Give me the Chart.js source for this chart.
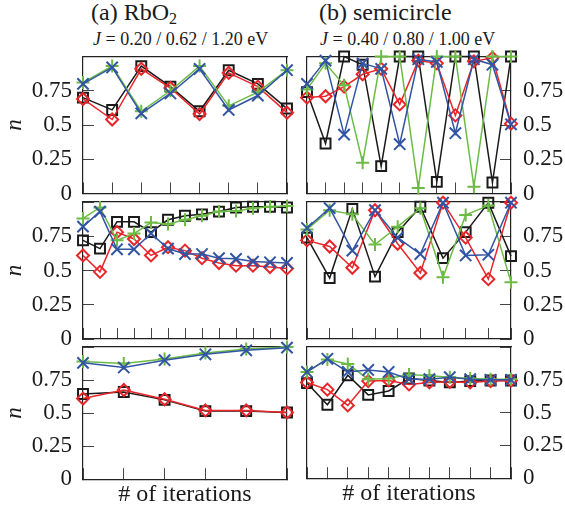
<!doctype html>
<html>
<head>
<title>Occupation vs. iterations</title>
<script src="https://cdn.jsdelivr.net/npm/chart.js@4.4.0/dist/chart.umd.min.js"></script>
<style>
body { margin: 0; background: #fff; }
#page { position: relative; width: 565px; height: 515px; overflow: hidden;
        font-family: 'Liberation Serif', 'Times New Roman', serif; color: #1a1a1a; }
#page canvas { position: absolute; left: 0; top: 0; }
.head { position: absolute; white-space: nowrap; }
.big { font-size: 24px; line-height: 24px; top: 0; }
.small { font-size: 18px; line-height: 18px; top: 30px; }
.sub { font-size: 16px; position: relative; top: 4px; }
</style>
</head>
<body>
<div id="page">
  <div class="head big" style="left:91px">(a) RbO<span class="sub">2</span></div>
  <div class="head small" style="left:93px"><i>J</i> = 0.20 / 0.62 / 1.20 eV</div>
  <div class="head big" style="left:319px">(b) semicircle</div>
  <div class="head small" style="left:320px"><i>J</i> = 0.40 / 0.80 / 1.00 eV</div>
  <canvas id="a1" width="565" height="515"></canvas>
  <canvas id="a2" width="565" height="515"></canvas>
  <canvas id="a3" width="565" height="515"></canvas>
  <canvas id="b1" width="565" height="515"></canvas>
  <canvas id="b2" width="565" height="515"></canvas>
  <canvas id="b3" width="565" height="515"></canvas>
</div>

<script>
// iteration indices for each panel
var itersA1 = [1, 2, 3, 4, 5, 6, 7, 8];
var itersA2 = [1, 2, 3, 4, 5, 6, 7, 8, 9, 10, 11, 12, 13];
var itersA3 = [1, 2, 3, 4, 5, 6];
var itersB1 = [1, 2, 3, 4, 5, 6, 7, 8, 9, 10, 11, 12];
var itersB2 = [1, 2, 3, 4, 5, 6, 7, 8, 9, 10];
var itersB3 = [1, 2, 3, 4, 5, 6, 7, 8, 9, 10, 11];

// (a) RbO2
var a1Black = [0.70, 0.61, 0.93, 0.78, 0.60, 0.90, 0.80, 0.62];
var a1Red   = [0.69, 0.54, 0.91, 0.77, 0.58, 0.88, 0.78, 0.59];
var a1Green = [0.81, 0.93, 0.60, 0.75, 0.93, 0.64, 0.74, 0.90];
var a1Blue  = [0.80, 0.92, 0.585, 0.73, 0.91, 0.61, 0.715, 0.90];

var a2Black = [0.72, 0.66, 0.855, 0.855, 0.78, 0.87, 0.90, 0.91, 0.93, 0.96, 0.965, 0.965, 0.96];
var a2Red   = [0.61, 0.49, 0.78, 0.73, 0.61, 0.67, 0.645, 0.59, 0.555, 0.535, 0.535, 0.525, 0.515];
var a2Green = [0.88, 0.96, 0.72, 0.77, 0.85, 0.84, 0.87, 0.90, 0.93, 0.935, 0.955, 0.965, 0.97];
var a2Blue  = [0.82, 0.93, 0.655, 0.655, 0.77, 0.66, 0.62, 0.62, 0.59, 0.585, 0.565, 0.56, 0.555];

var a3Black = [0.645, 0.66, 0.60, 0.515, 0.515, 0.505];
var a3Red   = [0.61, 0.675, 0.605, 0.52, 0.52, 0.505];
var a3Green = [0.89, 0.875, 0.91, 0.955, 0.985, 1.0];
var a3Blue  = [0.88, 0.845, 0.90, 0.945, 0.975, 0.995];

// (b) semicircle
var b1Black = [0.74, 0.365, 1.0, 0.94, 0.20, 1.0, 1.0, 0.085, 1.0, 1.0, 0.08, 1.0];
var b1Red   = [0.70, 0.71, 0.78, 0.87, 0.91, 0.65, 0.97, 0.95, 0.57, 0.965, 0.99, 0.51];
var b1Green = [0.76, 0.95, 0.79, 0.225, 1.0, 1.0, 0.04, 1.0, 1.0, 0.05, 1.0, 1.0];
var b1Blue  = [0.80, 0.97, 0.43, 0.95, 0.91, 0.36, 0.98, 0.96, 0.44, 0.98, 0.94, 0.505];

var b2Black = [0.74, 0.445, 0.95, 0.455, 0.78, 0.965, 0.59, 0.78, 0.995, 0.605];
var b2Red   = [0.72, 0.675, 0.52, 0.94, 0.695, 0.482, 0.995, 0.74, 0.437, 0.995];
var b2Green = [0.80, 0.94, 0.91, 0.69, 0.82, 0.955, 0.45, 0.905, 0.975, 0.415];
var b2Blue  = [0.81, 0.955, 0.645, 0.94, 0.74, 0.62, 0.995, 0.61, 0.615, 0.995];

var b3Black = [0.725, 0.56, 0.785, 0.635, 0.665, 0.76, 0.745, 0.73, 0.74, 0.745, 0.745];
var b3Red   = [0.73, 0.675, 0.555, 0.74, 0.745, 0.715, 0.73, 0.735, 0.73, 0.74, 0.745];
var b3Green = [0.81, 0.905, 0.87, 0.755, 0.76, 0.79, 0.78, 0.77, 0.76, 0.755, 0.755];
var b3Blue  = [0.81, 0.91, 0.81, 0.825, 0.81, 0.755, 0.755, 0.77, 0.755, 0.75, 0.75];

var yTickValues = [0, 0.25, 0.5, 0.75];
var yTickLabels = ['0', '0.25', '0.5', '0.75'];

var serif = "'Liberation Serif', 'Times New Roman', serif";
var ink = '#1a1a1a';
var tickInk = '#444';

// plot boxes on the page
var colLeft = [83, 307], colRight = [287, 511];
var rowTop = [56.5, 202, 347], rowBottom = [193.5, 339, 484];

function series(data, colour, style, radius) {
    return {
        data: data,
        borderColor: colour,
        backgroundColor: 'rgba(0,0,0,0)',
        pointBackgroundColor: 'rgba(0,0,0,0)',
        pointBorderColor: colour,
        borderWidth: 1.5,
        pointBorderWidth: 2,
        pointStyle: style,
        pointRadius: radius,
        pointHoverRadius: radius,
        tension: 0,
        clip: false
    };
}

function makePanel(id, col, row, labels, black, red, green, blue) {
    var lastRow = row === 2;
    var xHeight = lastRow ? 30 : 0;
    var yWidth = col === 0 ? 83 : 54;
    var frame = { display: true, color: '#222', width: 1.2 };
    var inward = { drawOnChartArea: false, drawTicks: true, tickLength: -11, color: tickInk, lineWidth: 1 };
    var edgeOnly = { display: true, grid: { display: false }, ticks: { display: false }, border: frame };

    var scales = {
        x: {
            type: 'category',
            position: 'bottom',
            grid: inward,
            border: frame,
            ticks: { display: false, autoSkip: false },
            title: {
                display: lastRow,
                text: '# of iterations',
                color: ink,
                font: { family: serif, size: 24 },
                padding: 0
            },
            afterFit: function (s) { s.height = xHeight; }
        },
        xTop: Object.assign({ type: 'category', position: 'top',
            afterFit: function (s) { s.height = 0; } }, edgeOnly),
        y: {
            type: 'linear',
            position: col === 0 ? 'left' : 'right',
            min: 0,
            max: 1,
            grid: inward,
            border: frame,
            ticks: {
                stepSize: 0.25,
                padding: col === 0 ? 22 : 23,
                color: ink,
                font: { family: serif, size: 23 },
                callback: function (v) {
                    var i = yTickValues.indexOf(v);
                    return i >= 0 ? yTickLabels[i] : '';
                }
            },
            title: {
                display: col === 0,
                text: 'n',
                color: ink,
                font: { family: serif, size: 23, style: 'italic' },
                padding: { top: 1, bottom: 0 }
            },
            afterFit: function (s) { s.width = yWidth; }
        },
        ySide: Object.assign({ type: 'linear', min: 0, max: 1,
            position: col === 0 ? 'right' : 'left',
            afterFit: function (s) { s.width = 0; } }, edgeOnly)
    };

    return new Chart(document.getElementById(id), {
        type: 'line',
        data: {
            labels: labels,
            datasets: [
                series(blue, '#3154a3', 'crossRot', 8),
                series(green, '#6cbb45', 'cross', 6.5),
                series(red, '#e8262a', 'rectRot', 6),
                series(black, '#1a1a1a', 'rect', 7)
            ]
        },
        options: {
            responsive: false,
            animation: false,
            events: [],
            layout: {
                padding: {
                    left: col === 0 ? 0 : colLeft[1],
                    right: col === 0 ? 565 - colRight[0] : 0,
                    top: rowTop[row],
                    bottom: 515 - rowBottom[row] - xHeight
                }
            },
            plugins: { legend: { display: false }, tooltip: { enabled: false } },
            scales: scales
        }
    });
}

makePanel('a1', 0, 0, itersA1, a1Black, a1Red, a1Green, a1Blue);
makePanel('a2', 0, 1, itersA2, a2Black, a2Red, a2Green, a2Blue);
makePanel('a3', 0, 2, itersA3, a3Black, a3Red, a3Green, a3Blue);
makePanel('b1', 1, 0, itersB1, b1Black, b1Red, b1Green, b1Blue);
makePanel('b2', 1, 1, itersB2, b2Black, b2Red, b2Green, b2Blue);
makePanel('b3', 1, 2, itersB3, b3Black, b3Red, b3Green, b3Blue);
</script>
</body>
</html>
